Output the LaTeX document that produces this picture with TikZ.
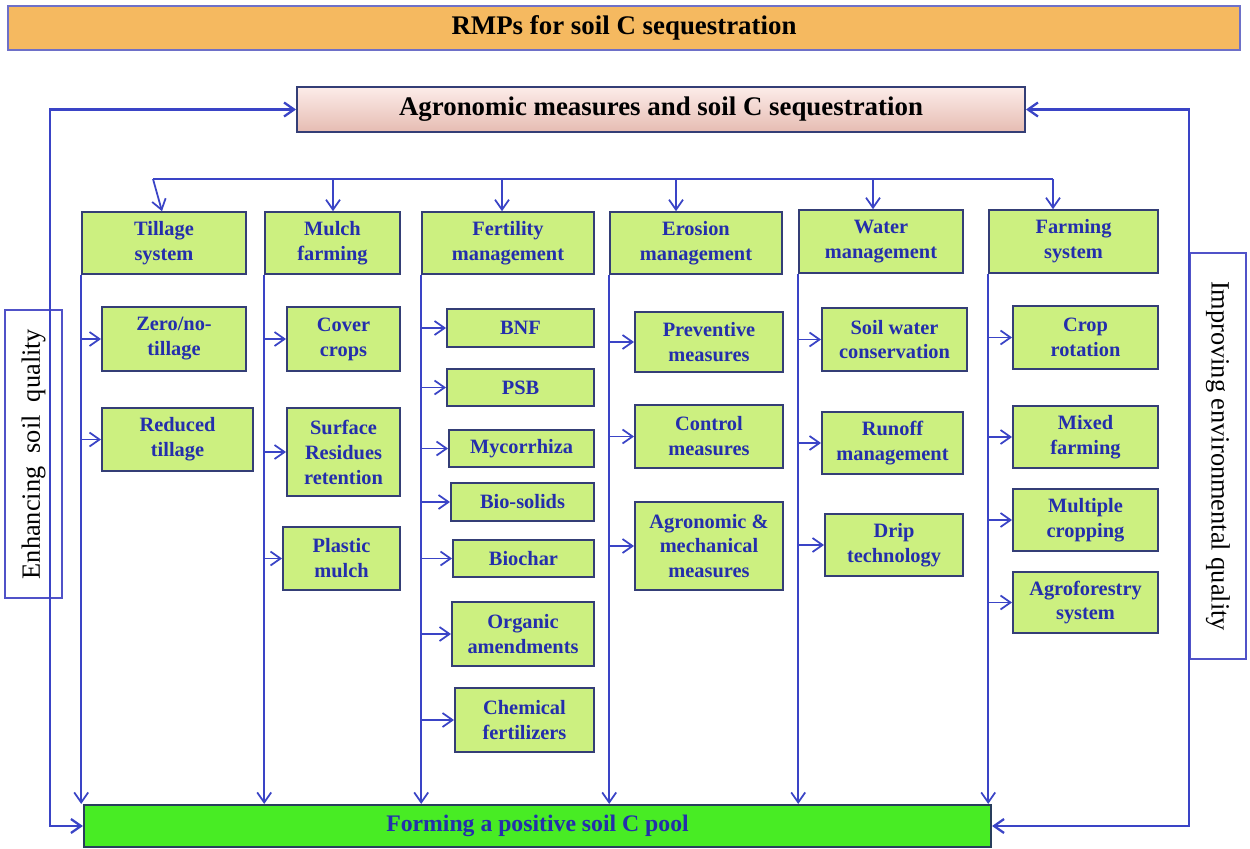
\documentclass[tikz,border=0pt]{standalone}
\usepackage{fontspec}
\setmainfont{Liberation Serif}
\usetikzlibrary{arrows.meta}

\definecolor{linkblue}{RGB}{58,68,198}
\definecolor{boxedge}{RGB}{52,62,118}
\definecolor{subgreen}{RGB}{204,240,128}
\definecolor{textblue}{RGB}{36,46,172}
\definecolor{bannerfill}{RGB}{245,185,96}
\definecolor{banneredge}{RGB}{110,112,200}
\definecolor{pooledge}{RGB}{40,62,92}
\definecolor{poolgreen}{RGB}{72,236,36}
\definecolor{sideblue}{RGB}{80,82,200}

\tikzset{
  arr/.style={linkblue, line width=1pt, -{Straight Barb[length=2mm,width=2.8mm]}},
  boxsize/.style 2 args={minimum width=#1*0.02cm, minimum height=#2*0.02cm},
  head/.style={draw=boxedge, fill=subgreen, line width=0.9pt, inner sep=0pt, align=center,
    text=textblue, font=\bfseries\fontsize{11.6}{14.2}\selectfont},
  sub/.style={head, line width=1.1pt},
  side/.style={draw=sideblue, line width=0.9pt, inner sep=0pt, font=\fontsize{15}{18}\selectfont},
}

\begin{document}
\begin{tikzpicture}[x=0.02cm,y=-0.02cm]
\useasboundingbox (0,0) rectangle (1250,848);

% titles
\node[draw=banneredge, fill=bannerfill, line width=1pt, boxsize={1232}{44},
  font=\bfseries\fontsize{15.3}{18}\selectfont] (rmp) at (624,28) {RMPs for soil C sequestration};
\node[draw=boxedge, top color={rgb,255:red,252;green,236;blue,233}, bottom color={rgb,255:red,230;green,188;blue,178},
  line width=1.1pt, boxsize={728}{45}, font=\bfseries\fontsize{15.3}{18}\selectfont] (agro) at (661,109.5)
  {Agronomic measures and soil C sequestration};

% column heads
\node[head, boxsize={164}{62}] (till) at (164,243) {Tillage\\system};
\node[head, boxsize={135}{62}] (mulch) at (332.5,243) {Mulch\\farming};
\node[head, boxsize={172}{62}] (fert) at (508,243) {Fertility\\management};
\node[head, boxsize={172}{62}] (eros) at (696,243) {Erosion\\management};
\node[head, boxsize={164}{63}] (water) at (881,241.5) {Water\\management};
\node[head, boxsize={169}{63}] (farm) at (1073.5,241.5) {Farming\\system};

% practices
\node[sub, boxsize={144}{64}] (zero) at (174,339) {Zero/no-\\tillage};
\node[sub, boxsize={151}{63}] (reduced) at (177.5,439.5) {Reduced\\tillage};

\node[sub, boxsize={113}{64}] (cover) at (343.5,339) {Cover\\crops};
\node[sub, boxsize={113}{88}] (surface) at (343.5,452) {Surface\\Residues\\retention};
\node[sub, boxsize={117}{63}] (plastic) at (341.5,558.5) {Plastic\\mulch};

\node[sub, boxsize={147}{38}] (bnf) at (520.5,328) {BNF};
\node[sub, boxsize={147}{37}] (psb) at (520.5,387.5) {PSB};
\node[sub, boxsize={145}{37}] (myco) at (521.5,448.5) {Mycorrhiza};
\node[sub, boxsize={143}{38}] (biosol) at (522.5,502) {Bio-solids};
\node[sub, boxsize={141}{37}] (biochar) at (523.5,558.5) {Biochar};
\node[sub, boxsize={142}{64}] (organic) at (523,634) {Organic\\amendments};
\node[sub, boxsize={139}{64}] (chem) at (524.5,720) {Chemical\\fertilizers};

\node[sub, boxsize={148}{60}] (prev) at (709,342) {Preventive\\measures};
\node[sub, boxsize={148}{63}] (control) at (709,436.5) {Control\\measures};
\node[sub, boxsize={148}{88}] (agromech) at (709,546) {Agronomic \&\\mechanical\\measures};

\node[sub, boxsize={145}{63}] (soilw) at (894.5,339.5) {Soil water\\conservation};
\node[sub, boxsize={141}{62}] (runoff) at (892.5,443) {Runoff\\management};
\node[sub, boxsize={138}{62}] (drip) at (894,545) {Drip\\technology};

\node[sub, boxsize={145}{63}] (crop) at (1085.5,337.5) {Crop\\rotation};
\node[sub, boxsize={145}{62}] (mixed) at (1085.5,437) {Mixed\\farming};
\node[sub, boxsize={145}{62}] (multi) at (1085.5,520) {Multiple\\cropping};
\node[sub, boxsize={145}{61}] (agrof) at (1085.5,602.5) {Agroforestry\\system};

% pool and side labels
\node[draw=pooledge, fill=poolgreen, line width=1.2pt, boxsize={907}{42}, text=textblue,
  font=\bfseries\fontsize{13.5}{16}\selectfont] (pool) at (537.5,826) {Forming a positive soil C pool};
\node[side, boxsize={57}{288}] (enh) at (33.5,454) {\rotatebox{90}{Enhancing\ \ soil\ \ quality}};
\node[side, boxsize={56}{406}] (imp) at (1218,456) {\rotatebox{-90}{Improving environmental quality}};

% distribution line
\coordinate (busL) at (153,179);
\coordinate (busR) at (1053,179);
\draw[linkblue, line width=1.1pt] (busL) -- (busR);
\draw[arr] (busL) -- ([xshift=-0.04cm]till.north);
\foreach \tx/\nm in {333/mulch, 502/fert, 676/eros, 873/water, 1053/farm}{
  \path (\tx,179) coordinate (tap);
  \draw[arr] (tap) -- (tap |- \nm.north);
}

% columns down to the pool
\foreach \nm in {till, mulch, fert, eros, water, farm}
  \draw[arr] (\nm.south west) -- (\nm.south west |- pool.north);

\foreach \hd/\bx in {till/zero, till/reduced, mulch/cover, mulch/surface, mulch/plastic,
    fert/bnf, fert/psb, fert/myco, fert/biosol, fert/biochar, fert/organic, fert/chem,
    eros/prev, eros/control, eros/agromech, water/soilw, water/runoff, water/drip,
    farm/crop, farm/mixed, farm/multi, farm/agrof}
  \draw[arr] (\hd.south west |- \bx.west) -- (\bx.west);

% side loops
\coordinate (lx) at (50,0);
\draw[arr, line width=1.3pt] (enh.center -| lx) |- (agro.west);
\draw[arr, line width=1.3pt] (enh.center -| lx) |- (pool.west);
\draw[arr, line width=1.3pt] (imp.west) |- (agro.east);
\draw[arr, line width=1.3pt] (imp.west) |- (pool.east);
\end{tikzpicture}
\end{document}
